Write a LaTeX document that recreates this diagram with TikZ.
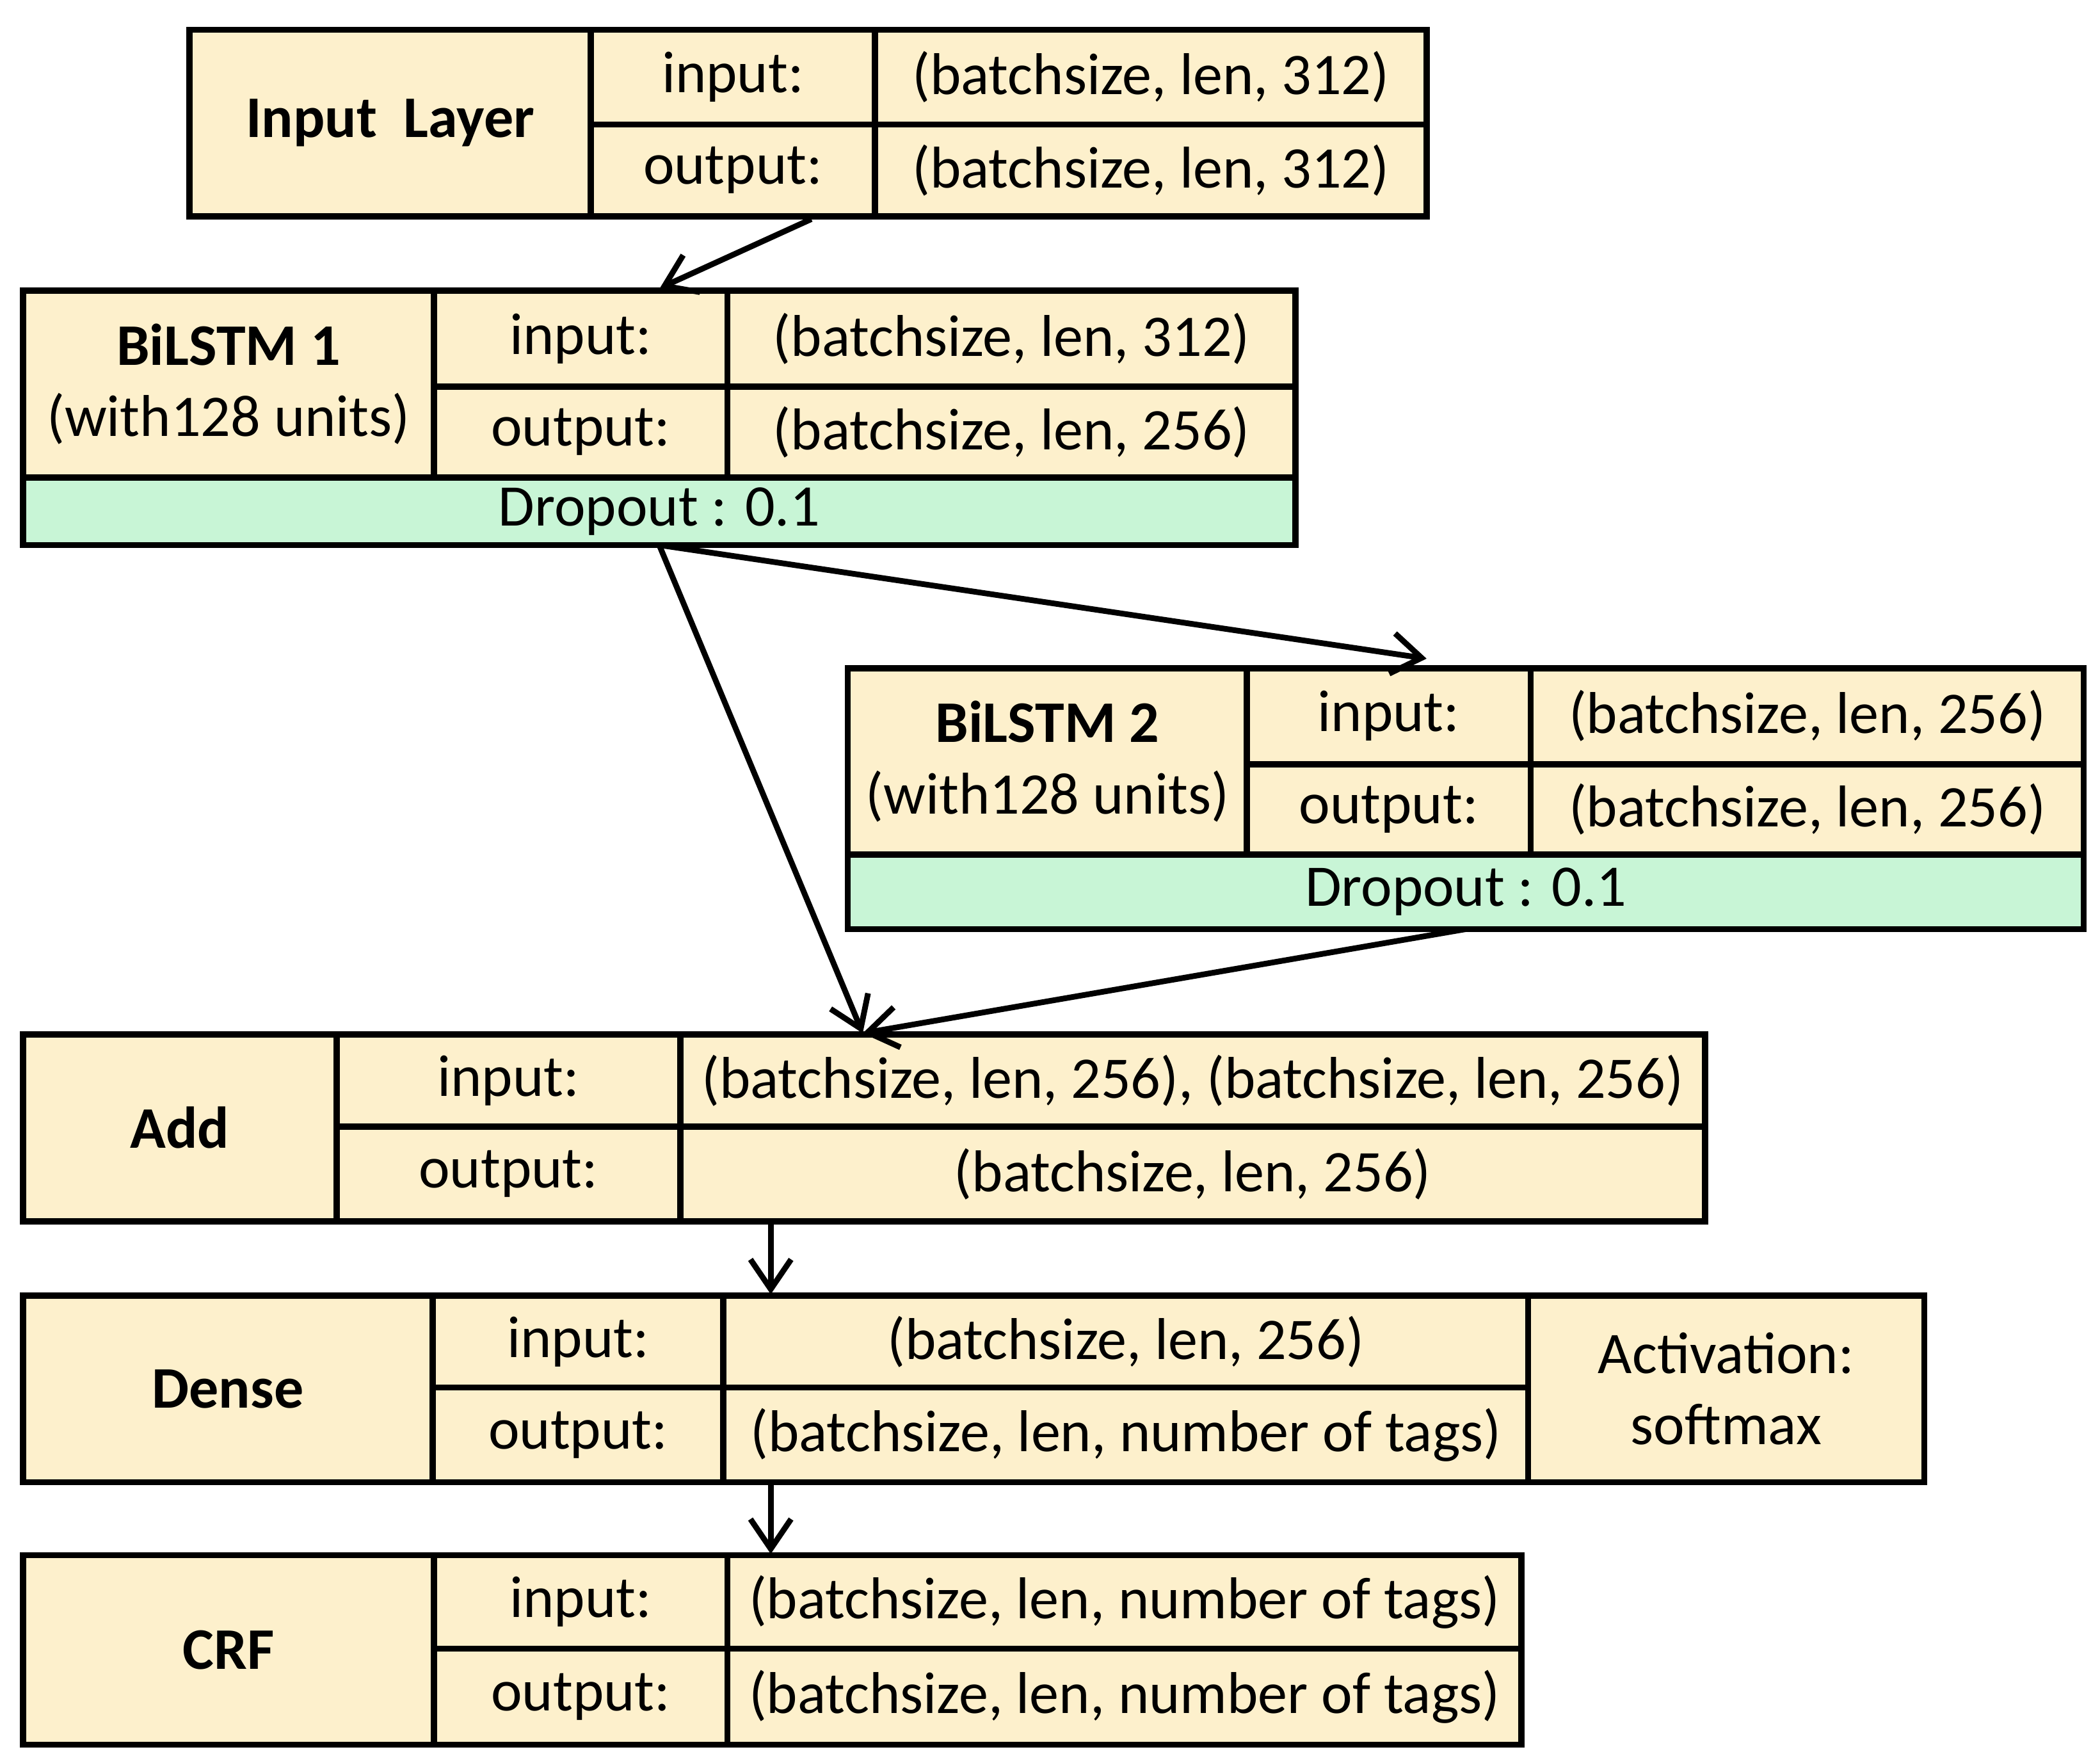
\documentclass[tikz,border=0pt]{standalone}
\usepackage{fontspec}
\setmainfont{Carlito}
\usetikzlibrary{arrows.meta}
\definecolor{beige}{HTML}{FDF0CC}
\definecolor{mint}{HTML}{C8F5D6}
\tikzset{
 cell/.style={draw=black,line width=1.3pt,fill=beige,inner sep=0pt,outer sep=0pt,align=center,font=\fontsize{12.4pt}{15pt}\selectfont},
 drop/.style={cell,fill=mint},
 arr/.style={line width=1.2pt,-{Straight Barb[length=2.2mm,width=3mm,line width=1.2pt]}}
}
\newcommand{\cellbox}[7][cell]{\node[#1,minimum width={(#4-#2)*0.01cm},minimum height={(#5-#3)*0.01cm}] (#6) at ({(#2+#4)/2},{(#3+#5)/2}) {#7};}
\begin{document}
\begin{tikzpicture}[x=0.01cm,y=-0.01cm]
\useasboundingbox (0,0) rectangle (1553,1302);
% Input layer
\cellbox{140}{22}{437}{160}{inT}{\bfseries Input~~Layer}
\cellbox{437}{22}{647}{92}{inI}{input:}
\cellbox{437}{92}{647}{160}{inO}{output:}
\cellbox{647}{22}{1055}{92}{inIv}{(batchsize, len, 312)}
\cellbox{647}{92}{1055}{160}{inOv}{(batchsize, len, 312)}
% BiLSTM 1
\cellbox{17}{215}{321}{353}{b1T}{\textbf{BiLSTM 1}\\(with128 units)}
\cellbox{321}{215}{538}{286}{b1I}{input:}
\cellbox{321}{286}{538}{353}{b1O}{output:}
\cellbox{538}{215}{958}{286}{b1Iv}{(batchsize, len, 312)}
\cellbox{538}{286}{958}{353}{b1Ov}{(batchsize, len, 256)}
\cellbox[drop]{17}{353}{958}{403}{d1}{Dropout : 0.1}
% BiLSTM 2
\cellbox{627}{494}{922}{632}{b2T}{\textbf{BiLSTM 2}\\(with128 units)}
\cellbox{922}{494}{1132}{565}{b2I}{input:}
\cellbox{922}{565}{1132}{632}{b2O}{output:}
\cellbox{1132}{494}{1541}{565}{b2Iv}{(batchsize, len, 256)}
\cellbox{1132}{565}{1541}{632}{b2Ov}{(batchsize, len, 256)}
\cellbox[drop]{627}{632}{1541}{687}{d2}{Dropout : 0.1}
% Add
\cellbox{17}{765}{249}{903}{aT}{\bfseries Add}
\cellbox{249}{765}{503}{833}{aI}{input:}
\cellbox{249}{833}{503}{903}{aO}{output:}
\cellbox{503}{765}{1261}{833}{aIv}{(batchsize, len, 256), (batchsize, len, 256)}
\cellbox{503}{833}{1261}{903}{aOv}{(batchsize, len, 256)}
% Dense
\cellbox{17}{958}{320}{1096}{dT}{\bfseries Dense}
\cellbox{320}{958}{535}{1026}{dI}{input:}
\cellbox{320}{1026}{535}{1096}{dO}{output:}
\cellbox{535}{958}{1130}{1026}{dIv}{(batchsize, len, 256)}
\cellbox{535}{1026}{1130}{1096}{dOv}{(batchsize, len, number of tags)}
\cellbox{1130}{958}{1423}{1096}{dA}{Activation:\\softmax}
% CRF
\cellbox{17}{1150}{321}{1290}{cT}{\bfseries CRF}
\cellbox{321}{1150}{538}{1219}{cI}{input:}
\cellbox{321}{1219}{538}{1290}{cO}{output:}
\cellbox{538}{1150}{1125}{1219}{cIv}{(batchsize, len, number of tags)}
\cellbox{538}{1219}{1125}{1290}{cOv}{(batchsize, len, number of tags)}
% arrows
\coordinate (s1) at (600,162);
\coordinate (e1) at (488,213);
\coordinate (e2) at (1055,487);
\coordinate (e3) at (638,764);
\coordinate (s4) at (570,905);
\coordinate (e4) at (570,957);
\coordinate (s5) at (570,1098);
\coordinate (e5) at (570,1149);
\draw[arr] (s1) -- (e1);
\draw[arr] (d1.south) -- (e3);
\draw[arr] (d1.south) -- (e2);
\draw[arr] (d2.south) -- (e3);
\draw[arr] (s4) -- (e4);
\draw[arr] (s5) -- (e5);
\end{tikzpicture}
\end{document}
